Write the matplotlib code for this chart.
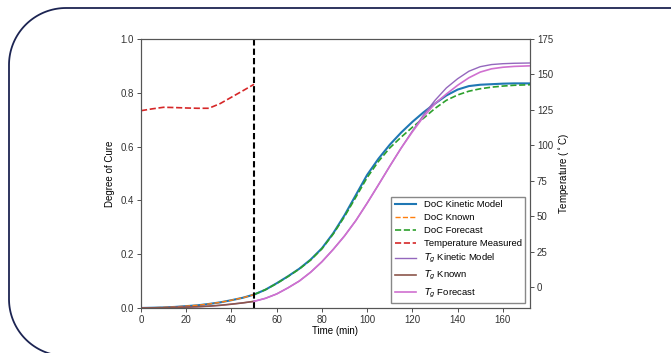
import numpy as np
import matplotlib
matplotlib.use("Agg")
import matplotlib.pyplot as plt
from matplotlib.lines import Line2D

plt.rcParams['font.family'] = ['Liberation Sans', 'DejaVu Sans']

# --- data ---
t_known = [0, 5, 10, 15, 20, 25, 30, 35, 40, 45, 50]
doc_known = [0.0, 0.001, 0.002, 0.004, 0.007, 0.010, 0.015, 0.021, 0.029, 0.038, 0.050]
tg_known = [-14.5, -14.4, -14.3, -14.1, -13.9, -13.6, -13.2, -12.6, -11.8, -10.9, -9.8]
temp_measured = [124.5, 125.8, 126.9, 126.7, 126.4, 126.2, 126.2, 129.5, 134.0, 138.5, 143.1]

t_model = [0, 5, 10, 15, 20, 25, 30, 35, 40, 45, 50, 55, 60, 65, 70, 75, 80, 85,
           90, 95, 100, 105, 110, 115, 120, 125, 130, 135, 140, 145, 150, 155,
           160, 165, 172]
doc_model = [0.0, 0.001, 0.002, 0.004, 0.007, 0.010, 0.015, 0.021, 0.029, 0.038,
             0.050, 0.068, 0.092, 0.118, 0.146, 0.180, 0.222, 0.278, 0.345, 0.420,
             0.495, 0.555, 0.607, 0.652, 0.692, 0.728, 0.760, 0.790, 0.812, 0.825,
             0.830, 0.832, 0.834, 0.835, 0.835]
tg_model = [-14.5, -14.4, -14.3, -14.1, -13.9, -13.6, -13.2, -12.6, -11.8, -10.9,
            -9.8, -7.7, -4.6, -0.3, 4.5, 10.7, 18.1, 26.8, 36.3, 47.1, 59.4, 72.3,
            85.4, 98.1, 110.2, 121.6, 131.8, 140.5, 147.0, 152.3, 155.5, 157.0,
            157.6, 157.9, 158.1]

t_fore = [50, 55, 60, 65, 70, 75, 80, 85, 90, 95, 100, 105, 110, 115, 120, 125,
          130, 135, 140, 145, 150, 155, 160, 165, 172]
doc_fore = [0.050, 0.068, 0.091, 0.117, 0.145, 0.178, 0.220, 0.275, 0.340, 0.412,
            0.485, 0.545, 0.595, 0.635, 0.672, 0.706, 0.742, 0.772, 0.792, 0.806,
            0.815, 0.821, 0.825, 0.828, 0.830]
tg_fore = [-9.8, -7.7, -4.6, -0.3, 4.5, 10.7, 18.1, 26.8, 36.3, 47.1, 59.4, 72.3,
           85.4, 98.1, 109.6, 120.4, 129.5, 136.2, 142.4, 147.7, 151.7, 154.0,
           155.1, 155.7, 156.1]

forecast_start = 50

fig = plt.figure(figsize=(6.71, 3.53), dpi=100)
W, H = 671, 353

# decorative rounded border
R = 57
pts = []
cx, cy = 9 + R, 299
for a in np.linspace(np.pi * 0.55, np.pi, 40):
    pts.append((cx + R * np.cos(a), cy + R * np.sin(a)))
cx2, cy2 = 9 + R, 8 + R
for a in np.linspace(np.pi, 1.5 * np.pi, 40):
    pts.append((cx2 + R * np.cos(a), cy2 + R * np.sin(a)))
pts.append((W + 5, 8))
pts = np.array(pts)
fig.add_artist(Line2D(pts[:, 0] / W, 1 - pts[:, 1] / H, transform=fig.transFigure,
                      color='#1c2452', lw=1.3, solid_capstyle='butt'))

ax = fig.add_axes([141 / W, 1 - 308 / H, (530 - 141) / W, (308 - 39) / H])
ax2 = ax.twinx()

h1, = ax.plot(t_model, doc_model, color='tab:blue', lw=1.5, label='DoC Kinetic Model')
h2, = ax.plot(t_known, doc_known, color='tab:orange', lw=1.0, ls='--', label='DoC Known')
h3, = ax.plot(t_fore, doc_fore, color='tab:green', lw=1.2, ls='--', label='DoC Forecast')
ax.axvline(forecast_start, color='black', ls='--', lw=1.5, dashes=(3, 1.5))

h4, = ax2.plot(t_known, temp_measured, color='tab:red', lw=1.2, ls='--', label='Temperature Measured')
h5, = ax2.plot(t_model, tg_model, color='tab:purple', lw=1.0, label='$T_g$ Kinetic Model')
h6, = ax2.plot(t_known, tg_known, color='tab:brown', lw=1.2, label='$T_g$ Known')
h7, = ax2.plot(t_fore, tg_fore, color='#d070d0', lw=1.2, label='$T_g$ Forecast')

ax.set_xlim(0, 172)
ax.set_ylim(0, 1.0)
ax2.set_ylim(-14.5, 175)
ax.set_xticks([0, 20, 40, 60, 80, 100, 120, 140, 160])
ax.set_yticks([0.0, 0.2, 0.4, 0.6, 0.8, 1.0])
ax2.set_yticks([0, 25, 50, 75, 100, 125, 150, 175])

for a in (ax, ax2):
    a.tick_params(labelsize=7, length=3, width=0.6, colors='#333333', pad=2)
    for s in a.spines.values():
        s.set_linewidth(0.8)
        s.set_color('#555555')

ax.set_xlabel('Time (min)', fontsize=7, labelpad=1)
ax.set_ylabel('Degree of Cure', fontsize=7, labelpad=4)
ax2.set_ylabel('Temperature ($^\\circ$C)', fontsize=7, labelpad=3)

ax2.legend(handles=[h1, h2, h3, h4, h5, h6, h7], loc='lower right', fontsize=6.8,
           frameon=True, fancybox=False, edgecolor='#888888', framealpha=1,
           handlelength=2.2, borderaxespad=0.5, labelspacing=0.42)

fig.savefig('out.png', dpi=100)
